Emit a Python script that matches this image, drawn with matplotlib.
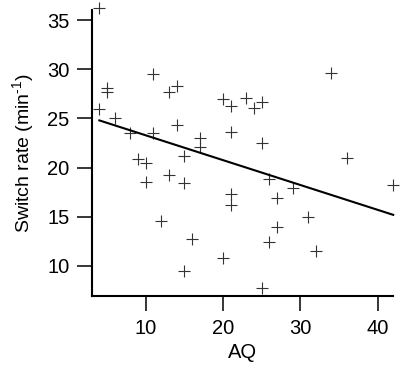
import matplotlib

matplotlib.use("Agg")
import matplotlib.pyplot as plt

plt.rcParams["font.family"] = ["Liberation Sans", "DejaVu Sans"]
plt.rcParams["mathtext.fontset"] = "custom"
plt.rcParams["mathtext.rm"] = "Liberation Sans"
plt.rcParams["mathtext.it"] = "Liberation Sans"

# AQ score vs. switch rate
aq = [4, 5, 5, 4, 6, 8, 11, 11, 13, 14, 14, 17, 17, 9, 10, 15, 10, 13, 15,
      12, 16, 15, 20, 21, 23, 24, 25, 21, 25, 26, 29, 27, 21, 21, 27, 26,
      20, 25, 36, 42, 31, 32, 34]
switch_rate = [36.2, 28.1, 27.7, 26.0, 25.0, 23.5, 23.5, 29.5, 27.7, 28.3,
               24.3, 23.0, 22.1, 20.9, 20.5, 21.2, 18.5, 19.3, 18.4, 14.6,
               12.7, 9.5, 27.0, 26.3, 27.1, 26.1, 26.7, 23.6, 22.5, 18.8,
               17.9, 16.9, 17.3, 16.2, 14.0, 12.4, 10.8, 7.8, 21.0, 18.2,
               15.0, 11.5, 29.6]

# regression line end points
fit_x = [4, 42]
fit_y = [24.8, 15.2]

x_ticks = [10, 20, 30, 40]
y_ticks = [10, 15, 20, 25, 30, 35]

fig = plt.figure(figsize=(4.03, 3.65), dpi=100)
ax = fig.add_axes([0.2273, 0.1904, 0.7484, 0.7816])

ax.plot(aq, switch_rate, linestyle="none", marker="+", markersize=8,
        markeredgewidth=0.8, color="#333333", clip_on=False)
ax.plot(fit_x, fit_y, color="black", linewidth=1.5, clip_on=False)

ax.set_xlim(3, 42)
ax.set_ylim(7, 36)
ax.set_xticks(x_ticks)
ax.set_yticks(y_ticks)

for side in ("top", "right"):
    ax.spines[side].set_visible(False)
for side in ("left", "bottom"):
    ax.spines[side].set_linewidth(1.5)

ax.tick_params(direction="out", length=10.8, width=1.1, labelsize=14.5,
               pad=5)
ax.tick_params(axis="x", pad=6)

ax.set_xlabel("AQ", fontsize=14.5, labelpad=4)
ax.set_ylabel(r"Switch rate (min$^{\text{-1}}$)", fontsize=14, labelpad=8)

fig.savefig("out.png", dpi=100)
